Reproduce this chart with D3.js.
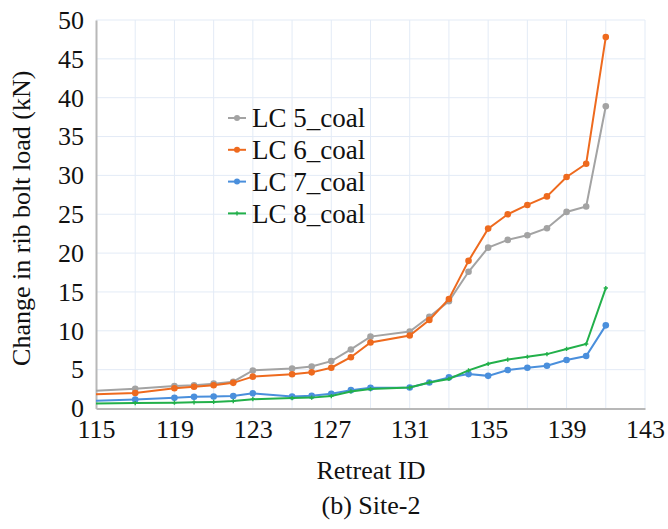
<!DOCTYPE html>
<html>
<head>
<meta charset="utf-8">
<script src="https://cdn.jsdelivr.net/npm/d3@7"></script>
</head>
<body style="margin:0;background:#fff">
<svg id="chart" width="668" height="529" style="display:block"></svg>
<script>
const retreatIds = [115,117,119,120,121,122,123,125,126,127,128,129,131,132,133,134,135,136,137,138,139,140,141];
const lc5 = [2.3,2.55,2.9,3.0,3.2,3.45,4.9,5.15,5.4,6.1,7.6,9.25,9.9,11.8,13.8,17.6,20.7,21.7,22.3,23.2,25.3,26.0,38.9];
const lc6 = [1.85,2.0,2.6,2.8,3.0,3.3,4.1,4.4,4.65,5.25,6.6,8.5,9.4,11.4,14.1,19.0,23.15,25.0,26.2,27.3,29.8,31.5,47.8];
const lc7 = [1.0,1.15,1.37,1.5,1.55,1.6,1.95,1.55,1.63,1.9,2.36,2.66,2.7,3.35,4.0,4.43,4.2,4.95,5.24,5.5,6.24,6.75,10.7];
const lc8 = [0.65,0.7,0.75,0.8,0.85,0.95,1.2,1.35,1.4,1.6,2.2,2.5,2.7,3.35,3.8,4.9,5.75,6.3,6.66,7.0,7.66,8.3,15.5];
const seriesNames = ["LC 5_coal","LC 6_coal","LC 7_coal","LC 8_coal"];
const seriesColors = ["#a3a3a3","#ee6a1e","#4a8fdc","#22b04a"];
const xTicks = [115,119,123,127,131,135,139,143];
const xGrid = [117,119,121,123,125,127,129,131,133,135,137,139,141,143];
const yTicks = [0,5,10,15,20,25,30,35,40,45,50];

const FONT = '"Liberation Serif", "Times New Roman", Tinos, Times, monospace';

const series = [lc5, lc6, lc7, lc8].map((vals, i) => ({
  name: seriesNames[i], color: seriesColors[i], marker: i < 3 ? "circle" : "cross",
  points: retreatIds.map((x, j) => ({x, y: vals[j]}))
}));

const svg = d3.select("#chart");
const L = 96, R = 645, T = 20, B = 408.5;
const x = d3.scaleLinear().domain([115, 143]).range([L, R]);
const y = d3.scaleLinear().domain([0, 50]).range([B, T]);

svg.append("g").selectAll("line").data(xGrid).join("line")
  .attr("x1", d => x(d)).attr("x2", d => x(d)).attr("y1", T).attr("y2", B)
  .attr("stroke", "#e3ebf6").attr("stroke-width", 1);
svg.append("g").selectAll("line").data(yTicks.filter(d => d > 0)).join("line")
  .attr("x1", L).attr("x2", R).attr("y1", d => y(d)).attr("y2", d => y(d))
  .attr("stroke", "#e3ebf6").attr("stroke-width", 1);

const xAxis = d3.axisBottom(x).tickValues(xTicks).tickSize(0).tickPadding(11).tickFormat(d3.format("d"));
const gx = svg.append("g").attr("transform", `translate(0,${B})`).call(xAxis);
gx.attr("font-family", null).attr("font-size", null);
gx.select(".domain").attr("stroke", "#b8b8b8").attr("stroke-width", 2);
gx.selectAll("text").attr("fill", "#111").style("font-family", FONT).style("font-size", "26px");

const yAxis = d3.axisLeft(y).tickValues(yTicks).tickSize(0).tickPadding(12);
const gy = svg.append("g").attr("transform", `translate(${L},0)`).call(yAxis);
gy.attr("font-family", null).attr("font-size", null);
gy.select(".domain").attr("stroke", "#b8b8b8").attr("stroke-width", 2);
gy.selectAll("text").attr("fill", "#111").style("font-family", FONT).style("font-size", "26px");

const line = d3.line().x(d => x(d.x)).y(d => y(d.y));
const sg = svg.append("g").selectAll("g").data(series).join("g");
sg.append("path").attr("d", d => line(d.points)).attr("fill", "none")
  .attr("stroke", d => d.color).attr("stroke-width", 2);
sg.each(function(s) {
  const g = d3.select(this);
  if (s.marker === "circle") {
    g.selectAll("circle").data(s.points.slice(1)).join("circle")
      .attr("cx", d => x(d.x)).attr("cy", d => y(d.y)).attr("r", 3.3).attr("fill", s.color);
  } else {
    g.selectAll("path.m").data(s.points.slice(1)).join("path").attr("class", "m")
      .attr("d", d3.symbol(d3.symbolCross, 10)).attr("transform", d => `translate(${x(d.x)},${y(d.y)})`)
      .attr("fill", s.color);
  }
});

const lg = svg.append("g").selectAll("g").data(series).join("g")
  .attr("transform", (d, i) => `translate(228,${118 + i * 31.8})`);
lg.append("line").attr("x1", 0).attr("x2", 18).attr("y1", 0).attr("y2", 0)
  .attr("stroke", d => d.color).attr("stroke-width", 2);
lg.filter(d => d.marker === "circle").append("circle").attr("cx", 9).attr("cy", 0).attr("r", 3).attr("fill", d => d.color);
lg.filter(d => d.marker === "cross").append("path").attr("d", d3.symbol(d3.symbolCross, 10)).attr("transform", "translate(9,0)").attr("fill", d => d.color);
lg.append("text").attr("x", 24).attr("y", 0).attr("dy", "0.35em").attr("fill", "#111")
  .style("font-family", FONT).style("font-size", "27px").text(d => d.name);

const tg = svg.append("g");
tg.append("text").attr("transform", `translate(30,${(T + B) / 2 + 4}) rotate(-90)`).attr("fill", "#111")
  .attr("text-anchor", "middle").style("font-family", FONT).style("font-size", "26px").text("Change in rib bolt load (kN)");
tg.append("text").attr("x", 371).attr("y", 479).attr("text-anchor", "middle").attr("fill", "#111")
  .style("font-family", FONT).style("font-size", "26px").text("Retreat ID");
tg.append("text").attr("x", 371).attr("y", 514).attr("text-anchor", "middle").attr("fill", "#111")
  .style("font-family", FONT).style("font-size", "26px").text("(b) Site-2");
</script>
</body>
</html>
